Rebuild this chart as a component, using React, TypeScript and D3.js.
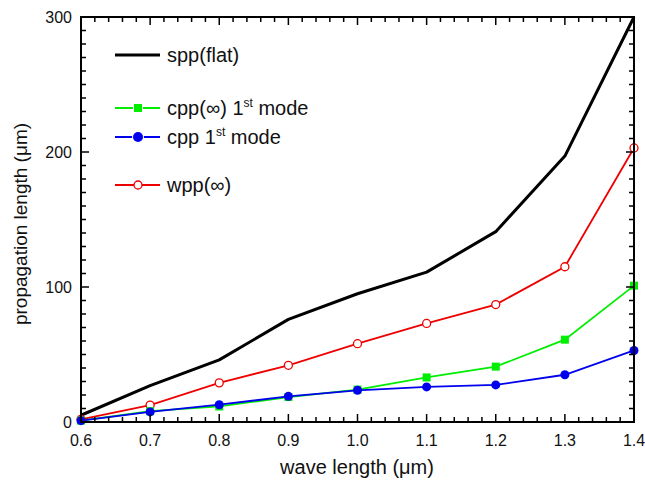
import React from "react";
import * as d3 from "d3";

const wavelengths = [0.6, 0.7, 0.8, 0.9, 1.0, 1.1, 1.2, 1.3, 1.4];
const sppFlat = [5, 27, 46, 76, 95, 111, 141, 197, 300];
const wppInf = [2, 12.5, 29, 42, 58, 73, 87, 115, 203];
const cppInf = [1, 8, 11.5, 18.5, 24, 33, 41, 61, 101];
const cpp = [1, 7.5, 12.8, 19, 23.5, 26, 27.5, 35, 53];
const xTicks = [0.6, 0.7, 0.8, 0.9, 1.0, 1.1, 1.2, 1.3, 1.4];
const yTicks = [0, 100, 200, 300];

const W = 645, H = 482;
const m = { left: 81, right: 634, top: 17, bottom: 422 };
const FONT = "'Liberation Sans', Arial, sans-serif";

export default function App() {
  const x = d3.scaleLinear().domain([0.6, 1.4]).range([m.left, m.right]);
  const y = d3.scaleLinear().domain([0, 300]).range([m.bottom, m.top]);
  const line = (vals: number[]) =>
    d3.line<number>().x((_, i) => x(wavelengths[i])).y((v) => y(v))(vals) || "";

  const xMinor = d3.range(0, 41).map((i) => 0.6 + i * 0.02);
  const yMinor = d3.range(0, 31).map((i) => i * 10);
  const isMajorX = (v: number) => Math.abs(v * 10 - Math.round(v * 10)) < 1e-6;
  const isMajorY = (v: number) => v % 100 === 0;

  const lg = { x1: 115, x2: 160, tx: 167, mx: 138 };
  const rows = [
    { y: 55, color: "#000", w: 3 },
    { y: 108, color: "#00ee00", w: 1.8 },
    { y: 137, color: "#0000ee", w: 1.8 },
    { y: 185, color: "#ee0000", w: 1.8 },
  ];

  return (
    <svg width={W} height={H} style={{ display: "block", position: "absolute", left: 0, top: 0, background: "#fff" }}>
      <rect x={0} y={0} width={W} height={H} fill="#fff" />
      {/* series */}
      <path d={line(sppFlat)} fill="none" stroke="#000" strokeWidth={3} strokeLinejoin="round" />
      <path d={line(wppInf)} fill="none" stroke="#ee0000" strokeWidth={1.8} />
      <path d={line(cppInf)} fill="none" stroke="#00ee00" strokeWidth={1.8} />
      <path d={line(cpp)} fill="none" stroke="#0000ee" strokeWidth={1.8} />
      {wppInf.map((v, i) => (
        <circle key={"r" + i} cx={x(wavelengths[i])} cy={y(v)} r={4} fill="#fff" stroke="#ee0000" strokeWidth={1.3} />
      ))}
      {cppInf.map((v, i) => (
        <rect key={"g" + i} x={x(wavelengths[i]) - 4} y={y(v) - 4} width={8} height={8} fill="#00ee00" />
      ))}
      {cpp.map((v, i) => (
        <circle key={"b" + i} cx={x(wavelengths[i])} cy={y(v)} r={4.5} fill="#0000ee" />
      ))}
      {/* frame */}
      <rect x={m.left} y={m.top} width={m.right - m.left} height={m.bottom - m.top} fill="none" stroke="#000" strokeWidth={2} />
      {xMinor.map((v, i) => {
        const L = isMajorX(v) ? 8 : 5;
        return (
          <g key={"xt" + i} stroke="#000" strokeWidth={1.5}>
            <line x1={x(v)} x2={x(v)} y1={m.bottom} y2={m.bottom - L} />
            <line x1={x(v)} x2={x(v)} y1={m.top} y2={m.top + L} />
          </g>
        );
      })}
      {yMinor.map((v, i) => {
        const L = isMajorY(v) ? 8 : 5;
        return (
          <g key={"yt" + i} stroke="#000" strokeWidth={1.5}>
            <line x1={m.left} x2={m.left + L} y1={y(v)} y2={y(v)} />
            <line x1={m.right} x2={m.right - L} y1={y(v)} y2={y(v)} />
          </g>
        );
      })}
      {xTicks.map((v) => (
        <text key={"xl" + v} x={x(v)} y={m.bottom + 24} textAnchor="middle" fontFamily={FONT} fontSize={16} fill="#111">
          {v.toFixed(1)}
        </text>
      ))}
      {yTicks.map((v) => (
        <text key={"yl" + v} x={m.left - 9} y={y(v) + 6} textAnchor="end" fontFamily={FONT} fontSize={16} fill="#111">
          {v}
        </text>
      ))}
      <text x={357} y={474} textAnchor="middle" fontFamily={FONT} fontSize={20} fill="#111">
        wave length (μm)
      </text>
      <text transform={`translate(27,224) rotate(-90)`} textAnchor="middle" fontFamily={FONT} fontSize={19} fill="#111">
        propagation length (μm)
      </text>
      {/* legend */}
      {rows.map((r, i) => (
        <line key={"ll" + i} x1={lg.x1} x2={lg.x2} y1={r.y} y2={r.y} stroke={r.color} strokeWidth={r.w} />
      ))}
      <rect x={lg.mx - 4} y={rows[1].y - 4} width={8} height={8} fill="#00ee00" stroke="#fff" strokeWidth={2} paintOrder="stroke" />
      <circle cx={lg.mx} cy={rows[2].y} r={5} fill="#0000ee" stroke="#fff" strokeWidth={2} paintOrder="stroke" />
      <circle cx={lg.mx} cy={rows[3].y} r={4} fill="#fff" stroke="#ee0000" strokeWidth={1.3} />
      <g fontFamily={FONT} fontSize={20} fill="#111">
        <text x={lg.tx} y={rows[0].y + 7}>spp(flat)</text>
        <text x={lg.tx} y={rows[1].y + 7}>
          cpp(∞) 1<tspan fontSize={12} dy={-8}>st</tspan>
          <tspan dy={8}> mode</tspan>
        </text>
        <text x={lg.tx} y={rows[2].y + 7}>
          cpp 1<tspan fontSize={12} dy={-8}>st</tspan>
          <tspan dy={8}> mode</tspan>
        </text>
        <text x={lg.tx} y={rows[3].y + 7}>wpp(∞)</text>
      </g>
    </svg>
  );
}
